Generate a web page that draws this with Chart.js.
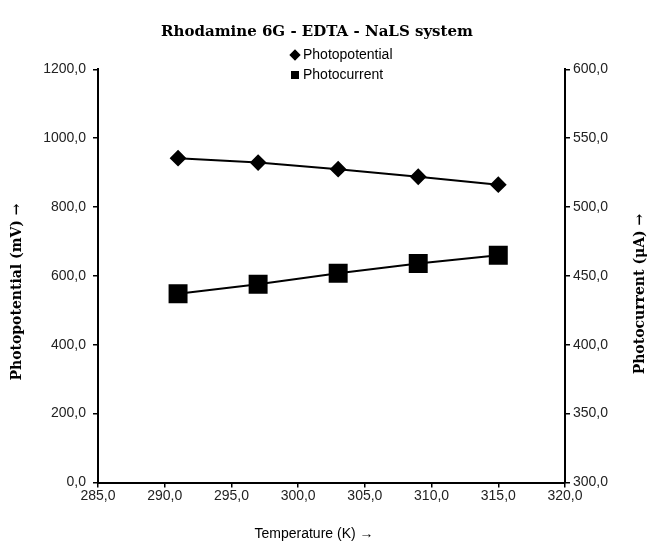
<!DOCTYPE html>
<html>
<head>
<meta charset="utf-8">
<script src="https://cdn.jsdelivr.net/npm/chart.js@4.4.0/dist/chart.umd.min.js"></script>
<style>
  html, body { margin: 0; padding: 0; background: #fff; }
  #wrap { width: 651px; height: 543px; }
</style>
</head>
<body>
<div id="wrap"><canvas id="StatsChart" width="651" height="543"></canvas></div>
<script>
// data
var temperatures = [291, 297, 303, 309, 315];
var photopotential = [942, 929, 910, 888, 865];
var photocurrent = [437, 444, 452, 459, 465];

var xTicks = [285, 290, 295, 300, 305, 310, 315, 320];
var leftTicks = [0, 200, 400, 600, 800, 1000, 1200];
var rightTicks = [300, 350, 400, 450, 500, 550, 600];

var chartTitle = "Rhodamine 6G - EDTA - NaLS system";
var xTitle = "Temperature (K) \u2192";
var leftTitle = "Photopotential (mV) \u2192";
var rightTitle = "Photocurrent (\u03bcA) \u2192";

function commaFmt(v){
    return Number(v).toFixed(1).replace(".", ",");
}

function toPoints(xs, ys){
    var pts = [];
    for (var i = 0; i < xs.length; i++) pts.push({x: xs[i], y: ys[i]});
    return pts;
}

var tickFont = {family: "'Liberation Sans', Arial, sans-serif", size: 14};

// moves the legend to where excel had it, and draws the axis titles
var layoutPlugin = {
    id: "layoutTweaks",
    afterLayout: function(chart){
        var lg = chart.legend;
        if (lg) {
            lg.left = 288;
            lg.top = 42;
        }
    },
    afterDraw: function(chart){
        var c = chart.ctx;
        c.save();
        c.fillStyle = "#000";
        c.textAlign = "center";
        c.textBaseline = "middle";
        c.font = "14px 'Liberation Sans', Arial, sans-serif";
        c.fillText(xTitle, 314, 534);

        c.font = "bold 14px 'DejaVu Serif', serif";
        c.save();
        c.translate(17, 292);
        c.rotate(-Math.PI / 2);
        c.fillText(leftTitle, 0, 0);
        c.restore();

        c.save();
        c.translate(640, 294);
        c.rotate(-Math.PI / 2);
        c.fillText(rightTitle, 0, 0);
        c.restore();
        c.restore();
    }
};

function drawChart(){
    var ctx = document.getElementById("StatsChart");
    new Chart(ctx, {
        type: "line",
        data: {
            datasets: [{
                label: "Photopotential",
                data: toPoints(temperatures, photopotential),
                yAxisID: "y",
                borderColor: "#000",
                backgroundColor: "#000",
                borderWidth: 2,
                pointStyle: "rectRot",
                pointRadius: 7,
                pointBackgroundColor: "#000",
                pointBorderColor: "#000",
                fill: false,
            }, {
                label: "Photocurrent",
                data: toPoints(temperatures, photocurrent),
                yAxisID: "y2",
                borderColor: "#000",
                backgroundColor: "#000",
                borderWidth: 2,
                pointStyle: "rect",
                pointRadius: 12,
                pointBackgroundColor: "#000",
                pointBorderColor: "#000",
                fill: false,
            }]
        },
        options: {
            responsive: false,
            animation: false,
            layout: {padding: {left: 0, right: 17, top: 0, bottom: 0}},
            plugins: {
                title: {
                    display: true,
                    text: chartTitle,
                    color: "#000",
                    font: {family: "'DejaVu Serif', serif", size: 15, weight: "bold"},
                    padding: {top: 23, bottom: 28.3}
                },
                legend: {
                    position: "chartArea",
                    align: "start",
                    labels: {
                        usePointStyle: true,
                        boxWidth: 2,
                        boxHeight: 6,
                        padding: 6,
                        color: "#000",
                        font: tickFont
                    }
                },
                tooltip: {enabled: false}
            },
            scales: {
                x: {
                    type: "linear",
                    position: "bottom",
                    min: 285,
                    max: 320,
                    afterBuildTicks: function(s){ s.ticks = xTicks.map(function(v){ return {value: v}; }); },
                    afterFit: function(s){ s.height = 60.5; },
                    border: {display: true, color: "#000", width: 2},
                    grid: {drawOnChartArea: false, drawTicks: true, tickLength: 5, color: "#000", lineWidth: 1.5},
                    ticks: {color: "#222", font: tickFont, padding: 0, maxRotation: 0, callback: commaFmt}
                },
                y: {
                    type: "linear",
                    position: "left",
                    min: 0,
                    max: 1200,
                    afterBuildTicks: function(s){ s.ticks = leftTicks.map(function(v){ return {value: v}; }); },
                    afterFit: function(s){ s.width = 98; },
                    border: {display: true, color: "#000", width: 2},
                    grid: {drawOnChartArea: false, drawTicks: true, tickLength: 5, color: "#000", lineWidth: 1.5},
                    ticks: {color: "#222", font: tickFont, padding: 7, callback: commaFmt}
                },
                y2: {
                    type: "linear",
                    position: "right",
                    min: 300,
                    max: 600,
                    afterBuildTicks: function(s){ s.ticks = rightTicks.map(function(v){ return {value: v}; }); },
                    afterFit: function(s){ s.width = 69; },
                    border: {display: true, color: "#000", width: 2},
                    grid: {drawOnChartArea: false, drawTicks: true, tickLength: 5, color: "#000", lineWidth: 1.5},
                    ticks: {color: "#222", font: tickFont, padding: 3, callback: commaFmt}
                }
            }
        },
        plugins: [layoutPlugin]
    });
}

drawChart();
</script>
</body>
</html>
